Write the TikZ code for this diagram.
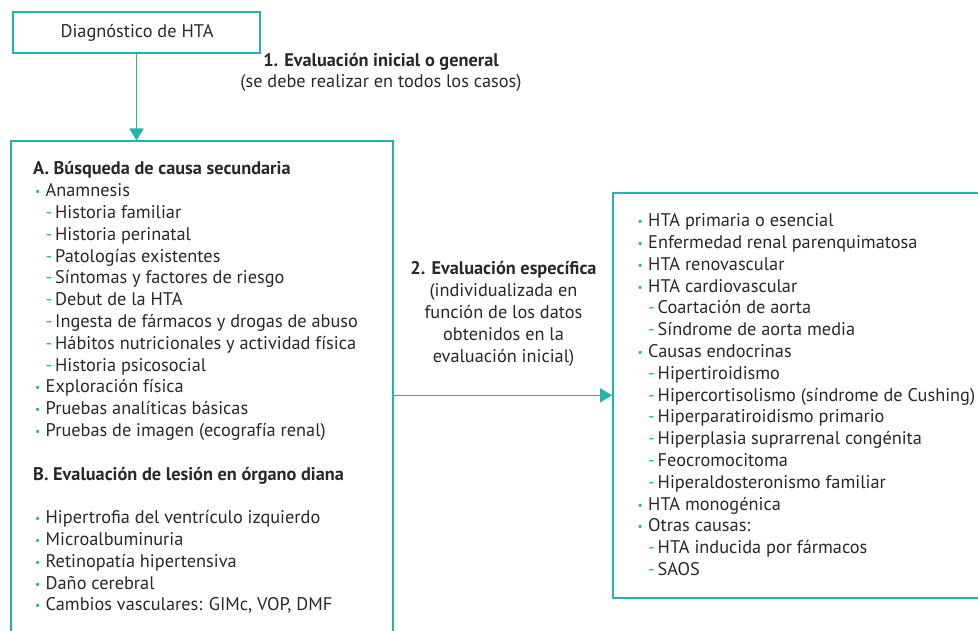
\documentclass[tikz,border=0pt]{standalone}
\usepackage{fontspec}
\setmainfont{PT Sans}
\usetikzlibrary{arrows.meta}
\definecolor{hteal}{RGB}{32,180,176}
\definecolor{htext}{RGB}{40,40,40}
\newcommand\fsz{\fontsize{18.3}{21.8}\selectfont}
\newcommand\itm[1]{\makebox[10.5pt][l]{\raisebox{1.0pt}{\textcolor{hteal}{\fontsize{11.5}{11.5}\selectfont•}}}#1}
\newcommand\subi[1]{\hspace*{10.5pt}\makebox[9.5pt][l]{\textcolor{hteal}{-}}#1}
\newcommand\hdg[1]{\hspace*{-2pt}\textbf{#1}}
\tikzset{
  box/.style={draw=hteal, line width=1.6pt, inner sep=0pt},
  arr/.style={draw=hteal, line width=1.6pt, -{Triangle[width=14pt,length=12pt]}},
  txt/.style={inner sep=0pt, text=htext, font=\fsz},
}
\begin{document}
\begin{tikzpicture}[x=1pt,y=-1pt]
\useasboundingbox (0,0) rectangle (978,631);
\clip (0,0) rectangle (978,631);
% boxes
\node[box, minimum width=247pt, minimum height=41pt] (diag) at (136.5,32.5) {};
\node[txt, anchor=base] (diagt) at (137,37.7) {Diagnóstico de HTA};
\node[box, anchor=north west, minimum width=382pt, minimum height=520pt] (left) at (10,140.5) {};
\node[box, anchor=north west, minimum width=420pt, minimum height=405pt] (right) at (612,192) {};
% connectors
\draw[arr] (diag.south) -- (diag.south |- left.north);
\draw[arr] (right.west -| left.east) -- (right.west);
% labels
\node[txt, anchor=base, align=center] (lab1) at (381,88) {\textbf{1. Evaluación inicial o general}\\(se debe realizar en todos los casos)};
\node[txt, anchor=base] (lab2) at (503.5,275) {\parbox[t]{200pt}{\centering\fsz
\textbf{2. Evaluación específica}\\
(individualizada en\\
función de los datos\\
obtenidos en la\\
evaluación inicial)}};
% left content
\node[txt, anchor=base west] (lefttext) at (35,175) {\parbox[t]{360pt}{\fsz
\hdg{A. Búsqueda de causa secundaria}\\
\itm{Anamnesis}\\
\subi{Historia familiar}\\
\subi{Historia perinatal}\\
\subi{Patologías existentes}\\
\subi{Síntomas y factores de riesgo}\\
\subi{Debut de la HTA}\\
\subi{Ingesta de fármacos y drogas de abuso}\\
\subi{Hábitos nutricionales y actividad física}\\
\subi{Historia psicosocial}\\
\itm{Exploración física}\\
\itm{Pruebas analíticas básicas}\\
\itm{Pruebas de imagen (ecografía renal)}\\
\mbox{}\\
\hdg{B. Evaluación de lesión en órgano diana}\\
\mbox{}\\
\itm{Hipertrofia del ventrículo izquierdo}\\
\itm{Microalbuminuria}\\
\itm{Retinopatía hipertensiva}\\
\itm{Daño cerebral}\\
\itm{Cambios vasculares: GIMc, VOP, DMF}}};
% right content
\node[txt, anchor=base west] (righttext) at (637.5,226.7) {\parbox[t]{360pt}{\fsz
\itm{HTA primaria o esencial}\\
\itm{Enfermedad renal parenquimatosa}\\
\itm{HTA renovascular}\\
\itm{HTA cardiovascular}\\
\subi{Coartación de aorta}\\
\subi{Síndrome de aorta media}\\
\itm{Causas endocrinas}\\
\subi{Hipertiroidismo}\\
\subi{Hipercortisolismo (síndrome de Cushing)}\\
\subi{Hiperparatiroidismo primario}\\
\subi{Hiperplasia suprarrenal congénita}\\
\subi{Feocromocitoma}\\
\subi{Hiperaldosteronismo familiar}\\
\itm{HTA monogénica}\\
\itm{Otras causas:}\\
\subi{HTA inducida por fármacos}\\
\subi{SAOS}}};
\end{tikzpicture}
\end{document}
